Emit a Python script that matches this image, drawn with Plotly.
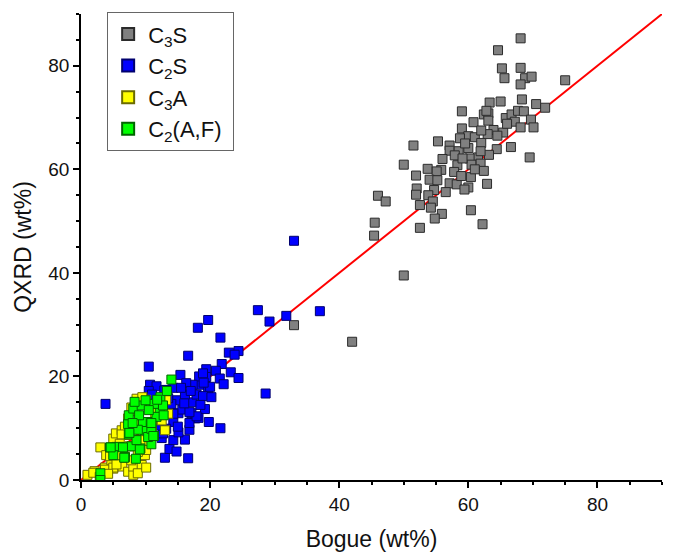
import plotly.graph_objects as go

# ---- data (Bogue wt%, QXRD wt%) ----
c3s_x = [68.1, 64.6, 65.2, 68.1, 65.6, 68.8, 69.8, 68.1, 75.0, 63.3, 65.0, 68.3, 70.5, 71.9,
         59.0, 62.4, 63.1, 63.1, 60.8, 65.8, 66.7, 67.7, 68.6, 69.7, 67.2, 68.1, 70.1, 59.0,
         63.9, 65.4, 63.0, 60.0, 61.0, 58.7, 55.3, 51.5, 57.1, 57.1, 60.0, 62.0, 58.5, 64.4,
         66.6, 63.2, 61.5, 60.2, 69.5, 57.9, 58.3, 60.5, 61.9, 50.0, 53.7, 55.8, 55.1, 62.4,
         57.8, 51.9, 54.0, 55.2, 60.4, 57.1, 58.2, 62.9, 52.0, 54.7, 56.5, 60.0, 59.4, 51.9,
         53.8, 46.0, 47.2, 54.5, 52.5, 54.2, 55.9, 54.8, 60.4, 62.2, 45.5, 52.5, 45.4, 50.0,
         42.0, 33.0, 61.9, 59.1, 58.9, 62.8, 56.0, 64.5, 66.0, 62.0, 59.5, 61.0]
c3s_y = [85.3, 83.0, 79.5, 79.6, 77.6, 77.6, 77.9, 76.4, 77.2, 72.9, 73.1, 73.5, 72.6, 71.9,
         71.2, 70.6, 70.8, 69.4, 69.1, 69.9, 70.6, 71.3, 71.2, 69.6, 69.2, 68.1, 68.1, 67.9,
         67.6, 67.1, 66.8, 66.4, 66.2, 66.0, 65.4, 64.6, 64.6, 63.6, 64.1, 65.1, 63.5, 63.9,
         64.3, 62.8, 62.3, 62.1, 62.3, 62.7, 60.8, 60.9, 61.1, 60.9, 60.1, 59.9, 59.6, 59.7,
         59.5, 58.8, 58.0, 57.9, 58.5, 57.3, 57.1, 57.2, 56.3, 56.0, 55.6, 56.5, 56.1, 55.1,
         55.0, 54.9, 53.8, 53.8, 53.1, 52.6, 51.4, 50.5, 52.1, 49.4, 49.7, 48.7, 47.2, 39.5,
         26.7, 29.9, 63.5, 62.1, 58.7, 71.3, 62.0, 66.5, 68.8, 67.5, 65.0, 60.0]

c2s_x = [3.8, 10.5, 10.7, 15.4, 16.6, 18.1, 19.7, 21.6, 22.9, 24.4, 23.8, 21.8, 19.4, 20.9,
         21.5, 23.2, 24.4, 22.1, 27.4, 29.2, 31.8, 37.0, 33.0, 28.6, 21.6, 19.8, 19.2, 17.7,
         16.8, 16.6, 13.0, 13.7, 14.3, 16.1, 15.1, 12.5, 14.3, 15.1, 15.7, 14.9, 17.3, 17.9,
         18.4, 19.2, 18.3, 19.7, 18.9, 17.3, 16.3, 14.3, 11.7, 13.2, 17.1, 18.2, 13.6, 14.0,
         16.1, 16.8, 17.9, 16.8, 19.4, 18.9, 12.9, 14.3, 15.0, 13.2, 12.7, 20.0, 19.0, 17.0,
         15.5, 13.5, 12.0, 11.5, 12.0, 14.8, 18.5, 20.2, 16.0, 10.5, 11.0]
c2s_y = [14.7, 21.9, 18.4, 20.3, 24.0, 29.4, 30.9, 27.5, 24.6, 24.9, 24.2, 22.4, 21.4, 21.1,
         19.6, 20.8, 19.7, 18.5, 32.8, 30.6, 31.7, 32.6, 46.2, 16.7, 10.0, 11.2, 13.7, 11.9,
         9.7, 4.2, 4.3, 6.0, 7.7, 7.8, 9.2, 8.1, 11.2, 12.9, 13.6, 15.4, 15.0, 16.5,
         18.4, 19.7, 20.0, 17.1, 16.2, 18.4, 18.7, 17.8, 18.1, 17.4, 12.9, 12.0, 13.1, 14.7,
         16.5, 11.0, 12.3, 13.1, 19.9, 20.6, 17.3, 12.8, 10.3, 9.9, 9.0, 18.0, 18.8, 17.2,
         17.8, 15.8, 12.0, 15.0, 10.5, 5.5, 14.5, 16.0, 14.8, 17.2, 16.5]

c3a_x = [1.0, 2.1, 1.9, 3.0, 3.7, 5.0, 6.4, 7.3, 8.1, 8.1, 9.4, 9.9, 5.0, 5.4, 6.3, 6.8,
         7.3, 8.1, 8.6, 10.1, 13.0, 13.5, 13.2, 9.4, 10.6, 6.0, 3.9, 5.5, 7.5, 8.8, 10.1,
         7.0, 6.8, 4.7, 7.8, 8.8, 2.9, 4.5, 6.3, 3.7, 5.0, 10.1, 9.0, 11.5, 12.0, 7.8,
         9.5, 11.0, 6.0, 5.5, 12.5, 4.2]
c3a_y = [1.0, 1.7, 1.4, 6.3, 2.4, 2.2, 2.6, 1.6, 1.0, 2.6, 2.9, 4.8, 8.0, 9.0, 9.6, 10.3,
         11.9, 13.3, 15.7, 15.5, 9.6, 12.8, 15.4, 7.7, 7.1, 4.8, 4.8, 6.4, 6.5, 5.4, 5.8,
         8.7, 4.5, 3.8, 3.8, 1.3, 0.6, 4.6, 8.8, 2.0, 2.4, 2.4, 11.0, 13.0, 15.0, 14.0,
         16.0, 10.5, 7.0, 3.0, 11.5, 1.2]

c4af_x = [3.0, 3.0, 4.5, 5.9, 6.8, 7.8, 9.2, 7.4, 9.9, 11.3, 10.9, 7.3, 9.6, 10.8, 12.2,
          7.4, 8.1, 9.4, 11.3, 12.3, 13.3, 14.0, 8.3, 10.0, 8.8, 6.5, 5.0, 8.6, 10.4, 12.7,
          11.7, 10.9, 7.5, 8.5, 9.1, 11.2, 10.9, 4.6, 6.7, 9.0, 10.5, 11.8, 8.0, 12.8]
c4af_y = [1.3, 0.0, 6.3, 6.4, 4.4, 6.5, 6.1, 8.8, 9.6, 8.5, 6.9, 10.8, 11.2, 11.2, 13.3,
          12.5, 13.8, 14.4, 14.7, 16.0, 17.2, 19.4, 15.1, 15.4, 9.7, 6.3, 4.8, 7.7, 8.3, 14.4,
          12.2, 9.9, 9.1, 4.1, 5.9, 8.5, 11.0, 6.3, 4.3, 12.5, 13.5, 15.5, 11.0, 12.5]

line_x = [0, 90]
line_y = [0, 90]

series = [
    ("C<sub>3</sub>S", c3s_x, c3s_y, "#808080", "#2b2b2b"),
    ("C<sub>2</sub>S", c2s_x, c2s_y, "#0000ff", "#00006e"),
    ("C<sub>3</sub>A", c3a_x, c3a_y, "#ffff00", "#6b6b00"),
    ("C<sub>2</sub>(A,F)", c4af_x, c4af_y, "#00ff00", "#006400"),
]

FONT = "Liberation Sans, Arial, sans-serif"

fig = go.Figure()
fig.add_trace(go.Scatter(x=line_x, y=line_y, mode="lines",
                         line=dict(color="#ff0000", width=2), showlegend=False,
                         hoverinfo="skip"))
for name, xs, ys, fill, edge in series:
    fig.add_trace(go.Scatter(x=xs, y=ys, mode="markers", name=name + "\u00a0",
                             marker=dict(symbol="square", size=9, color=fill,
                                         line=dict(color=edge, width=1))))

axis_common = dict(
    range=[0, 90], showline=True, linecolor="black", linewidth=1.5,
    ticks="outside", ticklen=6, tickwidth=1.5, tickcolor="black",
    dtick=20, tick0=0, showgrid=False, zeroline=False,
    tickfont=dict(family=FONT, size=19, color="#111"),
    minor=dict(ticks="outside", ticklen=3.5, tickwidth=1.5, tickcolor="black", dtick=5),
    mirror=False, automargin=False,
)

fig.update_layout(
    width=675, height=556,
    margin=dict(l=81, r=13, t=12, b=76),
    paper_bgcolor="white", plot_bgcolor="white",
    font=dict(family=FONT, color="#111"),
    xaxis=dict(axis_common, title=dict(text="Bogue (wt%)", font=dict(size=23), standoff=17)),
    yaxis=dict(axis_common, title=dict(text="QXRD (wt%)", font=dict(size=23), standoff=10)),
    legend=dict(x=0.045, y=1.004, xanchor="left", yanchor="top",
                bordercolor="#666", borderwidth=1, bgcolor="white",
                font=dict(size=22, color="#111"), itemsizing="constant"),
    showlegend=True,
)

fig.write_html("out.html")
